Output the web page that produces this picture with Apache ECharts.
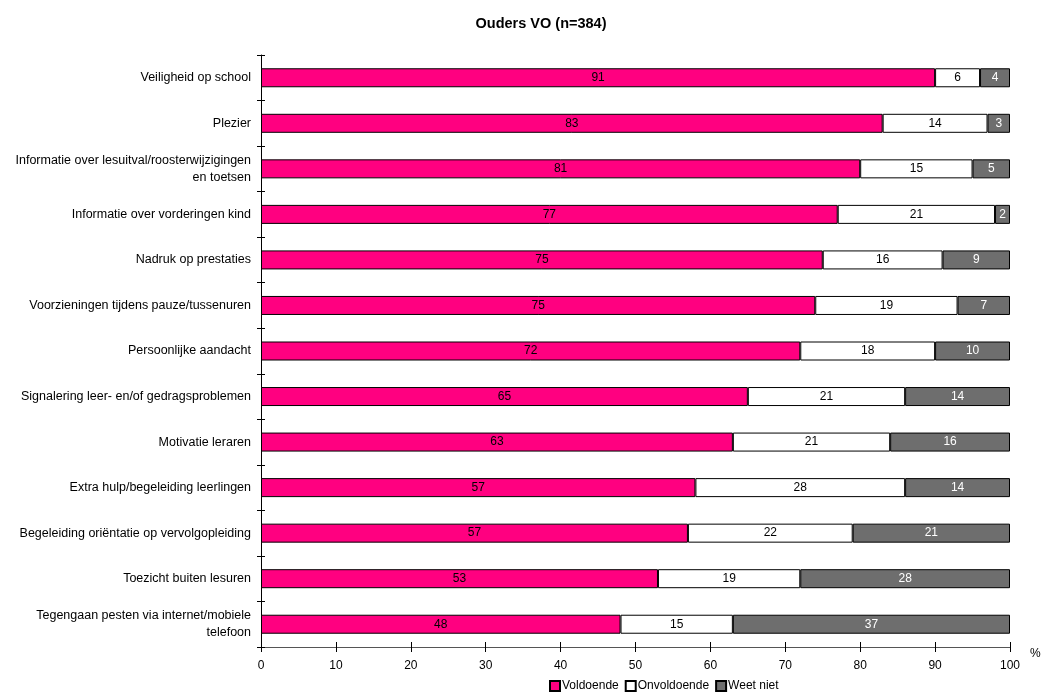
<!DOCTYPE html>
<html>
<head>
<meta charset="utf-8">
<script src="https://cdn.jsdelivr.net/npm/echarts@6/dist/echarts.min.js"></script>
<style>
html,body{margin:0;padding:0;background:#fff;}
#chart{width:1045px;height:692px;}
</style>
</head>
<body>
<div id="chart"></div>
<script>
const categories = [
  "Veiligheid op school",
  "Plezier",
  "Informatie over lesuitval/roosterwijzigingen\nen toetsen",
  "Informatie over vorderingen kind",
  "Nadruk op prestaties",
  "Voorzieningen tijdens pauze/tussenuren",
  "Persoonlijke aandacht",
  "Signalering leer- en/of gedragsproblemen",
  "Motivatie leraren",
  "Extra hulp/begeleiding leerlingen",
  "Begeleiding oriëntatie op vervolgopleiding",
  "Toezicht buiten lesuren",
  "Tegengaan pesten via internet/mobiele\ntelefoon"
];
// bar lengths as drawn
const voldoende   = [90, 83, 80, 77, 75, 74, 72, 65, 63, 58, 57, 53, 48];
const onvoldoende = [ 6, 14, 15, 21, 16, 19, 18, 21, 21, 28, 22, 19, 15];
const weetNiet    = [ 4,  3,  5,  2,  9,  7, 10, 14, 16, 14, 21, 28, 37];
// printed labels
const voldoendeLabels   = [91, 83, 81, 77, 75, 75, 72, 65, 63, 57, 57, 53, 48];
const onvoldoendeLabels = [ 6, 14, 15, 21, 16, 19, 18, 21, 21, 28, 22, 19, 15];
const weetNietLabels    = [ 4,  3,  5,  2,  9,  7, 10, 14, 16, 14, 21, 28, 37];
const xTicks = [0, 10, 20, 30, 40, 50, 60, 70, 80, 90, 100];

const FONT = "Liberation Sans, Arial, sans-serif";
const chart = echarts.init(document.getElementById('chart'));

function mk(name, data, labels, color, labelColor) {
  return {
    name: name,
    type: 'bar',
    stack: 'total',
    data: data,
    barWidth: 19,
    itemStyle: { color: color, borderColor: '#000', borderWidth: 1 },
    label: {
      show: true,
      position: 'inside',
      color: labelColor,
      fontFamily: FONT,
      fontSize: 12,
      formatter: p => String(labels[p.dataIndex])
    },
    emphasis: { disabled: true }
  };
}

chart.setOption({
  animation: false,
  backgroundColor: '#fff',
  title: {
    text: 'Ouders VO (n=384)',
    left: 536, top: 11, textAlign: 'center',
    textStyle: { fontFamily: FONT, fontSize: 14.5, fontWeight: 'bold', color: '#000' }
  },
  legend: {
    top: 675, left: 544,
    itemWidth: 10, itemHeight: 10, itemGap: 6,
    icon: 'rect',
    textStyle: { fontFamily: FONT, fontSize: 12, color: '#000', padding: [0,0,0,-3] },
    data: ['Voldoende', 'Onvoldoende', 'Weet niet']
  },
  grid: { left: 261, right: 35, top: 55, bottom: 45, containLabel: false },
  xAxis: [{
    type: 'value', min: 0, max: 100, interval: 10,
    axisLine: { show: true, lineStyle: { color: '#555', width: 1 } },
    axisTick: { show: true, length: 5, lineStyle: { color: '#000' } },
    splitLine: { show: false },
    axisLabel: { color: '#000', fontFamily: FONT, fontSize: 12, margin: 13,
                 formatter: v => xTicks.includes(v) ? String(v) : '' },
    name: '%', nameLocation: 'end', nameGap: 20,
    nameTextStyle: { color: '#000', fontFamily: FONT, fontSize: 12, padding: [0,0,0,0], verticalAlign: 'top', lineHeight: 14 }
  }, {
    type: 'value', min: 0, max: 100, interval: 10, position: 'bottom',
    axisLine: { show: false },
    axisTick: { show: true, inside: true, length: 5, lineStyle: { color: '#000' } },
    axisLabel: { show: false }, splitLine: { show: false }
  }],
  yAxis: [{
    type: 'category', data: categories, inverse: true,
    axisLine: { show: true, lineStyle: { color: '#000', width: 1 } },
    axisTick: { show: true, length: 4, lineStyle: { color: '#000' } },
    axisLabel: { color: '#000', fontFamily: FONT, fontSize: 12.5, margin: 10, lineHeight: 17, align: 'right' }
  }, {
    type: 'category', data: categories, inverse: true, position: 'left',
    axisLine: { show: false },
    axisTick: { show: true, inside: true, length: 4, lineStyle: { color: '#000' } },
    axisLabel: { show: false }
  }],
  series: [
    mk('Voldoende', voldoende, voldoendeLabels, '#FF0080', '#000'),
    mk('Onvoldoende', onvoldoende, onvoldoendeLabels, '#FFFFFF', '#000'),
    mk('Weet niet', weetNiet, weetNietLabels, '#6E6E6E', '#fff')
  ]
});
</script>
</body>
</html>
